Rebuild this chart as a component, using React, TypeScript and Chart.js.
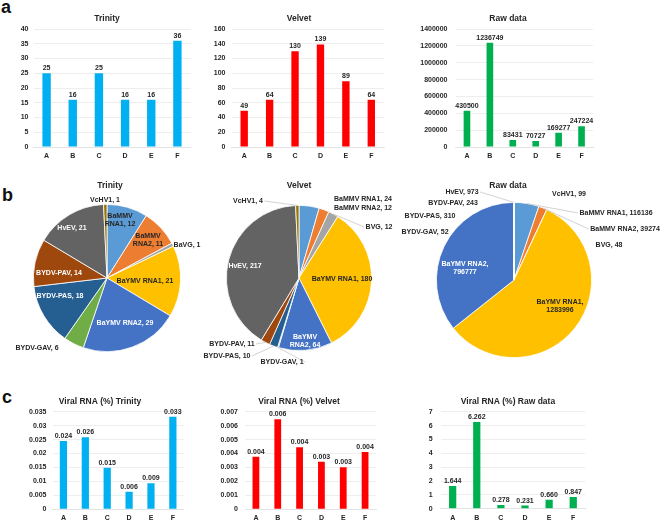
import React, { useEffect, useRef } from "react";
import { Chart, registerables } from "chart.js";
Chart.register(...registerables);

const FONT = "'Liberation Sans', Arial, sans-serif";
const TEXT = "#262626";

// ---------- data ----------
const categories = ["A", "B", "C", "D", "E", "F"];

const trinityCounts = [25, 16, 25, 16, 16, 36];
const velvetCounts = [49, 64, 130, 139, 89, 64];
const rawCounts = [430500, 1236749, 83431, 70727, 169277, 247224];

const trinityPct = [0.0245, 0.0258, 0.0149, 0.0063, 0.0093, 0.0332];
const trinityPctLabels = ["0.024", "0.026", "0.015", "0.006", "0.009", "0.033"];
const velvetPct = [0.00377, 0.00645, 0.00445, 0.00341, 0.00301, 0.00411];
const velvetPctLabels = ["0.004", "0.006", "0.004", "0.003", "0.003", "0.004"];
const rawPct = [1.644, 6.262, 0.278, 0.231, 0.66, 0.847];
const rawPctLabels = ["1.644", "6.262", "0.278", "0.231", "0.660", "0.847"];

const trinityViruses = ["BaMMV RNA1", "BaMMV RNA2", "BaVG", "BaYMV RNA1", "BaYMV RNA2", "BYDV-GAV", "BYDV-PAS", "BYDV-PAV", "HvEV", "VcHV1"];
const velvetViruses = ["BaMMV RNA1", "BaMMV RNA2", "BVG", "BaYMV RNA1", "BaYMV RNA2", "BYDV-GAV", "BYDV-PAS", "BYDV-PAV", "HvEV", "VcHV1"];
const trinityPie = [12, 11, 1, 21, 29, 6, 18, 14, 21, 1];
const velvetPie = [24, 12, 12, 180, 64, 1, 10, 11, 217, 4];
const rawPie = [116136, 39274, 48, 1283996, 796777, 52, 310, 243, 973, 99];

const pieColors = ["#5B9BD5", "#ED7D31", "#A5A5A5", "#FFC000", "#4472C4", "#70AD47", "#255E91", "#9E480E", "#636363", "#997300"];

// ---------- label placement (offsets from pie centre) ----------
type Place = { dx: number; dy: number; c: string; line?: boolean; wrap?: number };
const W = "#ffffff";
const trinityPlace: Place[] = [
  { dx: 13, dy: -58, c: TEXT, wrap: 1 },
  { dx: 41, dy: -38, c: TEXT, wrap: 1 },
  { dx: 80, dy: -33, c: TEXT },
  { dx: 38, dy: 3, c: TEXT },
  { dx: 18, dy: 45, c: W },
  { dx: -70, dy: 70, c: TEXT },
  { dx: -47, dy: 18, c: W },
  { dx: -48, dy: -5, c: W },
  { dx: -35, dy: -50, c: W },
  { dx: -2, dy: -78, c: TEXT },
];
const velvetPlace: Place[] = [
  { dx: 64, dy: -79, c: TEXT },
  { dx: 64, dy: -70, c: TEXT },
  { dx: 80, dy: -51, c: TEXT, line: true },
  { dx: 43, dy: 1, c: TEXT },
  { dx: 6, dy: 63, c: W, wrap: 1 },
  { dx: -17, dy: 84, c: TEXT, line: true },
  { dx: -72, dy: 78, c: TEXT, line: true },
  { dx: -67, dy: 66, c: TEXT, line: true },
  { dx: -54, dy: -12, c: W },
  { dx: -51, dy: -77, c: TEXT, line: true },
];
const rawPlace: Place[] = [
  { dx: 102, dy: -67, c: TEXT, line: true },
  { dx: 111, dy: -51, c: TEXT, line: true },
  { dx: 95, dy: -35, c: TEXT },
  { dx: 46, dy: 26, c: TEXT, wrap: 2 },
  { dx: -49, dy: -12, c: W, wrap: 2 },
  { dx: -89, dy: -48, c: TEXT },
  { dx: -84, dy: -64, c: TEXT },
  { dx: -61, dy: -77, c: TEXT },
  { dx: -52, dy: -88, c: TEXT, line: true },
  { dx: 55, dy: -86, c: TEXT },
];

const fmt = (v: any) => String(+(+v).toFixed(6));

// ---------- plugins ----------
const barDecor = {
  id: "barDecor",
  afterDatasetsDraw(chart: any, _a: any, opts: any) {
    const ctx = chart.ctx;
    ctx.save();
    ctx.font = `bold 7px ${FONT}`;
    ctx.fillStyle = TEXT;
    ctx.textAlign = "center";
    ctx.textBaseline = "bottom";
    chart.getDatasetMeta(0).data.forEach((el: any, i: number) => {
      ctx.fillText(opts.labels[i], el.x, el.y - 1.5);
    });
    ctx.font = `bold 8.5px ${FONT}`;
    ctx.textBaseline = "middle";
    ctx.fillText(opts.title, opts.tx, opts.ty);
    ctx.restore();
  },
};

const pieDecor = {
  id: "pieDecor",
  afterDatasetsDraw(chart: any, _a: any, opts: any) {
    const ctx = chart.ctx;
    const meta = chart.getDatasetMeta(0);
    const a0 = meta.data[0];
    const cx = a0.x, cy = a0.y, R = a0.outerRadius;
    ctx.save();
    ctx.font = `bold 7px ${FONT}`;
    ctx.textAlign = "center";
    ctx.textBaseline = "middle";
    opts.place.forEach((p: Place, i: number) => {
      const arc = meta.data[i];
      const text = `${opts.names[i]}, ${opts.values[i]}`;
      const words = text.split(" ");
      const lines = p.wrap ? [words.slice(0, p.wrap).join(" "), words.slice(p.wrap).join(" ")] : [text];
      const x = cx + p.dx, y = cy + p.dy;
      const lh = 8;
      const w = Math.max(...lines.map((l) => ctx.measureText(l).width));
      if (p.line) {
        const mid = (arc.startAngle + arc.endAngle) / 2;
        const ax = cx + Math.cos(mid) * R, ay = cy + Math.sin(mid) * R;
        const sx = x < cx ? x + w / 2 + 1.5 : x - w / 2 - 1.5;
        ctx.strokeStyle = "#bfbfbf";
        ctx.lineWidth = 0.7;
        ctx.beginPath();
        ctx.moveTo(sx, y);
        ctx.lineTo(ax, ay);
        ctx.stroke();
      }
      ctx.fillStyle = p.c;
      lines.forEach((l, k) => {
        ctx.fillText(l, x, y + (k - (lines.length - 1) / 2) * lh);
      });
    });
    ctx.fillStyle = TEXT;
    ctx.font = `bold 8.5px ${FONT}`;
    ctx.fillText(opts.title, opts.tx, opts.ty);
    ctx.restore();
  },
};

// ---------- components ----------
type Rect = [number, number, number, number]; // x, y, w, h (page)
type Area = [number, number, number, number]; // l, t, r, b (page)

function BarChart(props: {
  box: Rect; area: Area; title: string; tx: number; ty: number;
  values: number[]; labels: string[]; color: string; max: number; step: number;
  barPct: number; tickPad: number;
}) {
  const ref = useRef<HTMLCanvasElement>(null);
  useEffect(() => {
    const [bx, by, bw, bh] = props.box;
    const [l, t, r, b] = props.area;
    const yw = l - bx;
    const xh = by + bh - b;
    const chart = new Chart(ref.current!, {
      type: "bar",
      data: {
        labels: categories,
        datasets: [{ data: props.values, backgroundColor: props.color, barPercentage: props.barPct, categoryPercentage: 1 }],
      },
      options: {
        responsive: false,
        animation: false,
        devicePixelRatio: 1,
        layout: { padding: { left: 0, top: t - by, right: bx + bw - r, bottom: 0 } },
        plugins: {
          legend: { display: false },
          tooltip: { enabled: false },
          barDecor: { labels: props.labels, title: props.title, tx: props.tx - bx, ty: props.ty - by },
        } as any,
        scales: {
          x: {
            grid: { display: false, drawTicks: false },
            border: { display: true, color: "#e3e3e3" },
            ticks: { font: { family: FONT, size: 7, weight: "bold" }, color: TEXT, padding: 5 },
            afterFit: (s: any) => { s.height = xh; },
          },
          y: {
            min: 0,
            max: props.max,
            ticks: { stepSize: props.step, font: { family: FONT, size: 7, weight: "bold" }, color: TEXT, padding: props.tickPad, callback: fmt },
            grid: { color: "#eeeeee", drawTicks: false },
            border: { display: false },
            afterFit: (s: any) => { s.width = yw; },
          },
        },
      } as any,
      plugins: [barDecor],
    });
    return () => chart.destroy();
  }, []);
  const [bx, by, bw, bh] = props.box;
  return <canvas ref={ref} width={bw} height={bh} style={{ position: "absolute", left: bx, top: by, width: bw, height: bh }} />;
}

function PieChart(props: {
  box: Rect; area: Area; title: string; tx: number; ty: number;
  names: string[]; values: number[]; place: Place[];
}) {
  const ref = useRef<HTMLCanvasElement>(null);
  useEffect(() => {
    const [bx, by, bw, bh] = props.box;
    const [l, t, r, b] = props.area;
    const chart = new Chart(ref.current!, {
      type: "pie",
      data: {
        labels: props.names,
        datasets: [{ data: props.values, backgroundColor: pieColors, borderColor: "#ffffff", borderWidth: 0.8 }],
      },
      options: {
        responsive: false,
        animation: false,
        devicePixelRatio: 1,
        layout: { padding: { left: l - bx, top: t - by, right: bx + bw - r, bottom: by + bh - b } },
        plugins: {
          legend: { display: false },
          tooltip: { enabled: false },
          pieDecor: { names: props.names, values: props.values, place: props.place, title: props.title, tx: props.tx - bx, ty: props.ty - by },
        } as any,
      } as any,
      plugins: [pieDecor],
    });
    return () => chart.destroy();
  }, []);
  const [bx, by, bw, bh] = props.box;
  return <canvas ref={ref} width={bw} height={bh} style={{ position: "absolute", left: bx, top: by, width: bw, height: bh }} />;
}

const letterStyle = (left: number, top: number): React.CSSProperties => ({
  position: "absolute", left, top, fontFamily: FONT, fontWeight: "bold", fontSize: 18, lineHeight: "18px", color: "#111",
});

export default function App() {
  return (
    <div style={{ position: "absolute", left: 0, top: 0, width: 660, height: 521, background: "#fff", overflow: "hidden" }}>
      <div style={letterStyle(1, -2)}>a</div>
      <div style={letterStyle(2, 186)}>b</div>
      <div style={letterStyle(2, 388)}>c</div>

      <BarChart box={[0, 8, 200, 157]} area={[33.5, 29, 190.5, 147]} title="Trinity" tx={107} ty={19}
        values={trinityCounts} labels={trinityCounts.map(String)} color="#00B0F0" max={40} step={5} barPct={0.32} tickPad={5} />
      <BarChart box={[200, 8, 195, 157]} area={[231.5, 29, 384, 147]} title="Velvet" tx={299} ty={19}
        values={velvetCounts} labels={velvetCounts.map(String)} color="#FF0000" max={160} step={20} barPct={0.29} tickPad={6} />
      <BarChart box={[400, 8, 205, 157]} area={[455.5, 29, 593, 147]} title="Raw data" tx={508} ty={19}
        values={rawCounts} labels={rawCounts.map(String)} color="#00B050" max={1400000} step={200000} barPct={0.29} tickPad={8} />

      <PieChart box={[0, 170, 212, 200]} area={[33, 204, 181, 352]} title="Trinity" tx={110} ty={186}
        names={trinityViruses} values={trinityPie} place={trinityPlace} />
      <PieChart box={[200, 170, 195, 200]} area={[226, 205, 372, 351]} title="Velvet" tx={299} ty={186}
        names={velvetViruses} values={velvetPie} place={velvetPlace} />
      <PieChart box={[390, 170, 270, 200]} area={[436, 202, 592, 358]} title="Raw data" tx={508} ty={186}
        names={velvetViruses} values={rawPie} place={rawPlace} />

      <BarChart box={[0, 393, 200, 128]} area={[52.5, 411.7, 183.8, 509.3]} title="Viral RNA (%) Trinity" tx={100} ty={401.7}
        values={trinityPct} labels={trinityPctLabels} color="#00B0F0" max={0.035} step={0.005} barPct={0.33} tickPad={6} />
      <BarChart box={[200, 393, 190, 128]} area={[245, 411.7, 376, 509.3]} title="Viral RNA (%) Velvet" tx={299} ty={401.7}
        values={velvetPct} labels={velvetPctLabels} color="#FF0000" max={0.007} step={0.001} barPct={0.31} tickPad={7} />
      <BarChart box={[400, 393, 200, 128]} area={[440.6, 411.7, 585.3, 509.3]} title="Viral RNA (%) Raw data" tx={508} ty={401.7}
        values={rawPct} labels={rawPctLabels} color="#00B050" max={7} step={1} barPct={0.3} tickPad={8} />
    </div>
  );
}
